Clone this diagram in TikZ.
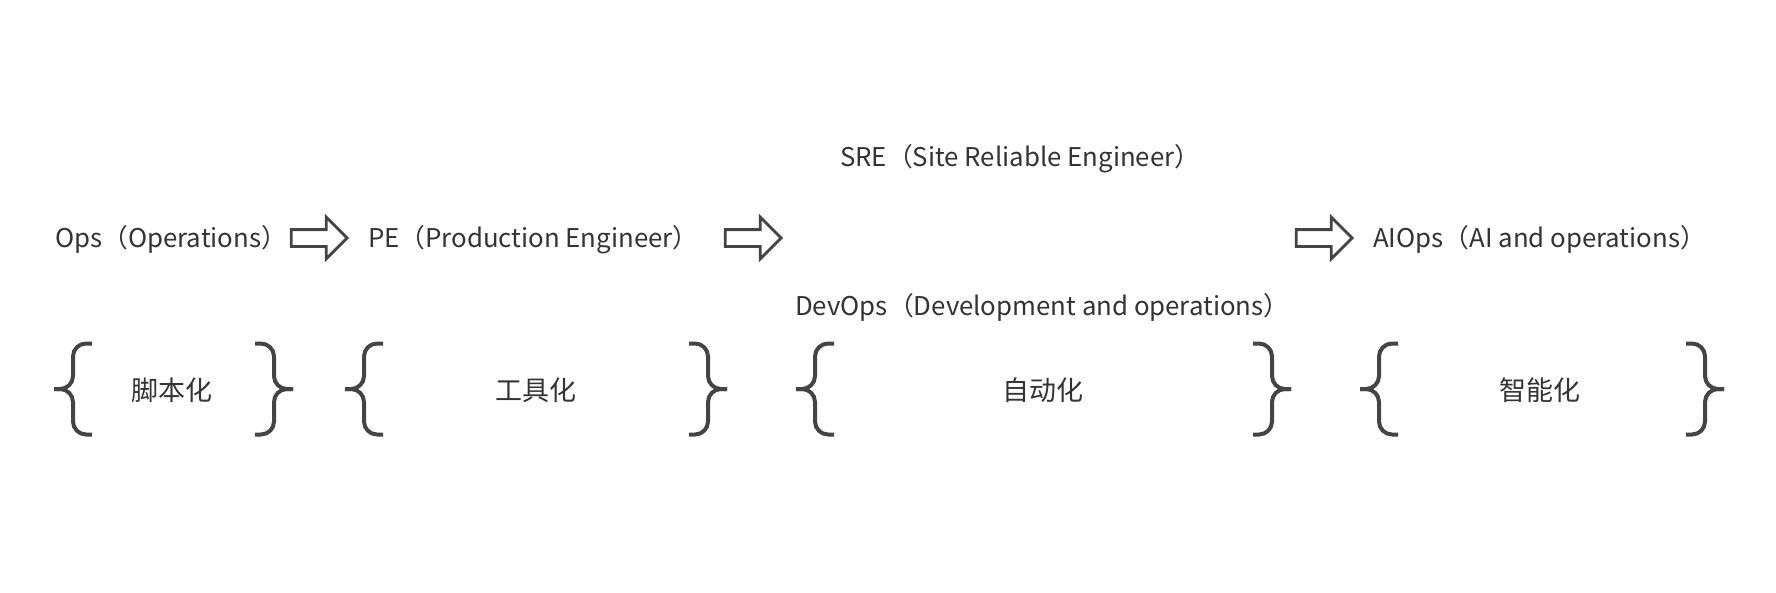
\documentclass[tikz,border=0pt]{standalone}
\usepackage{fontspec}
\setmainfont{Noto Sans CJK SC}
\usetikzlibrary{shapes.arrows}
\definecolor{inkgray}{HTML}{333333}
\definecolor{bracegray}{HTML}{444444}

\tikzset{
  role/.style={anchor=base west, text=inkgray, inner sep=0pt,
               font=\fontsize{25.8}{31}\selectfont},
  stage/.style={anchor=base, text=inkgray, inner sep=0pt,
                font=\fontsize{27}{32}\selectfont},
  flow/.style={single arrow, draw=bracegray, fill=white, line width=2.8pt,
               minimum height=56pt, minimum width=39pt, inner sep=0pt,
               text height=14pt, text depth=0pt, text width=0pt,
               single arrow head extend=12.5pt, single arrow head indent=0pt},
  lbrace/.pic={
    \draw[bracegray, line width=4pt, rounded corners=13pt]
      (0,0) -- (19,0) -- (19,-45.5) -- (38,-45.5);
    \draw[bracegray, line width=4pt, rounded corners=13pt]
      (0,0) -- (19,0) -- (19,45.5) -- (38,45.5);
  },
  rbrace/.pic={
    \draw[bracegray, line width=4pt, rounded corners=13pt]
      (0,0) -- (-19,0) -- (-19,-45.5) -- (-38,-45.5);
    \draw[bracegray, line width=4pt, rounded corners=13pt]
      (0,0) -- (-19,0) -- (-19,45.5) -- (-38,45.5);
  }
}

\begin{document}
\begin{tikzpicture}[x=1pt, y=-1pt]
  \useasboundingbox (0,0) rectangle (1776,592);

  % roles
  \node[role] (ops)    at (55,247)   {Ops（Operations）};
  \node[role] (pe)     at (368,247)  {PE（Production Engineer）};
  \node[role] (sre)    at (840,166)  {SRE（Site Reliable Engineer）};
  \node[role] (devops) at (795,315)  {DevOps（Development and operations）};
  \node[role] (aiops)  at (1373,247) {AIOps（AI and operations）};

  % arrows between roles
  \node[flow] (a1) at (315,238) {};
  \node[flow] (a2) at (749,238) {};
  \node[flow] (a3) at (1320,238) {};

  % stages
  \node[stage] (script) at (172,400)  {脚本化};
  \node[stage] (tool)   at (536,400)  {工具化};
  \node[stage] (auto)   at (1043,400) {自动化};
  \node[stage] (smart)  at (1540,400) {智能化};

  \pic at (54,389)   {lbrace};
  \pic at (293,389)  {rbrace};
  \pic at (345,389)  {lbrace};
  \pic at (727,389)  {rbrace};
  \pic at (796,389)  {lbrace};
  \pic at (1291,389) {rbrace};
  \pic at (1360,389) {lbrace};
  \pic at (1724,389) {rbrace};
\end{tikzpicture}
\end{document}
